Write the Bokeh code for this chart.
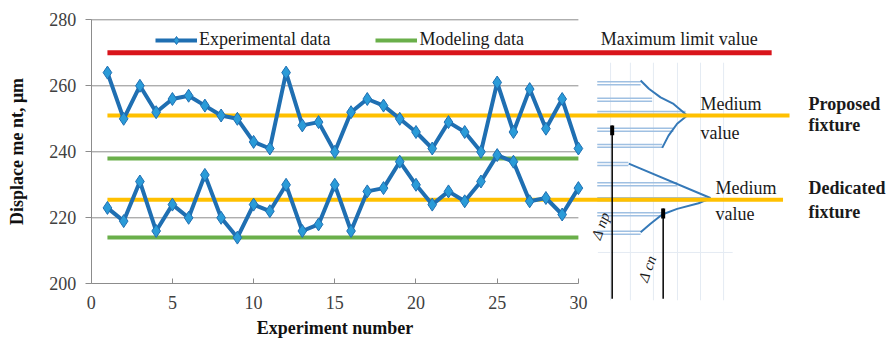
from bokeh.plotting import figure
from bokeh.models import Range1d, LinearAxis, FixedTicker, Legend, LegendItem, Label
from bokeh.embed import file_html
from bokeh.resources import INLINE

# ---------------- data ----------------
experiment = list(range(1, 31))
proposed = [264, 250, 260, 252, 256, 257, 254, 251, 250, 243,
            241, 264, 248, 249, 240, 252, 256, 254, 250, 246,
            241, 249, 246, 240, 261, 246, 259, 247, 256, 241]
dedicated = [223, 219, 231, 216, 224, 220, 233, 220, 214, 224,
             222, 230, 216, 218, 230, 216, 228, 229, 237, 230,
             224, 228, 225, 231, 239, 237, 225, 226, 221, 229]

modeling_levels = [238, 214]
medium_levels = [251, 225.5]
medium_ends = [43.0, 42.6]
max_limit = 270
max_limit_end = 41.9
x_ticks = [0, 5, 10, 15, 20, 25, 30]
y_ticks = [200, 220, 240, 260, 280]

# right-side sketch: histogram bars (level, end) and distribution curves
hist_start = 31.16
hist_up_y = [260.8, 255.8, 251.8, 246.7, 241.8]
hist_up_end = [33.83, 34.54, 36.6, 35.85, 35.16]
hist_lo_y = [236.3, 230.2, 225.6, 221.1, 215.5]
hist_lo_end = [33.08, 36.08, 37.9, 35.24, 33.83]
curve_up_x = [33.83, 34.34, 35.06, 35.86, 36.70, 36.08, 35.55, 35.16]
curve_up_y = [261.6, 259.1, 256.5, 254.5, 251.0, 248.5, 244.9, 241.2]
curve_lo_x = [33.10, 38.13, 37.40, 36.08, 35.16, 34.44, 33.83]
curve_lo_y = [236.4, 226.0, 224.4, 222.7, 221.0, 218.2, 215.6]
delta_x = [32.08, 35.22]
delta_top = [248.0, 222.8]
delta_bottom = 195.5
sketch_grid_x = [31.98, 33.2, 34.62, 36.1, 37.52, 38.94]
sketch_grid_y = [209.5]
sketch_grid_span = (195.0, 267.0)
sketch_grid_xspan = (31.2, 39.5)

FONT = "Liberation Serif"
BLUE = "#1f6fb2"
MARK = "#2a9bd8"
GREEN = "#6aaf4a"
ORANGE = "#ffc000"
RED = "#d9141b"
GRAY = "#8c8c8c"

p = figure(width=888, height=340, output_backend="svg", toolbar_location=None,
           x_range=Range1d(-5.585, 49.095), y_range=Range1d(182.82, 285.85),
           x_axis_location=None, y_axis_location=None,
           min_border_left=0, min_border_top=0, min_border_bottom=0, min_border_right=0)
p.outline_line_color = None
p.xgrid.visible = False
p.ygrid.visible = False

# y axis placed at x = 0
yax = LinearAxis(fixed_location=0, bounds=(200, 280), ticker=FixedTicker(ticks=y_ticks))
yax.axis_line_color = GRAY
yax.major_tick_line_color = GRAY
yax.major_tick_out = 6
yax.major_tick_in = 0
yax.minor_tick_line_color = None
yax.major_label_text_font = FONT
yax.major_label_text_font_size = "18px"
yax.major_label_text_color = "#404040"
yax.major_label_standoff = 9
yax.axis_label = "Displace me nt, μm"
yax.axis_label_text_font = FONT
yax.axis_label_text_font_style = "bold"
yax.axis_label_text_font_size = "18px"
yax.axis_label_text_color = "#111111"
yax.axis_label_standoff = 20
p.add_layout(yax, "left")

# x axis placed at y = 200
xax = LinearAxis(fixed_location=200, bounds=(0, 30), ticker=FixedTicker(ticks=x_ticks))
xax.axis_line_color = GRAY
xax.major_tick_line_color = GRAY
xax.major_tick_in = 5
xax.major_tick_out = 0
xax.minor_tick_line_color = None
xax.major_label_text_font = FONT
xax.major_label_text_font_size = "18px"
xax.major_label_text_color = "#404040"
xax.major_label_standoff = 12
xax.axis_label = "Experiment number"
xax.axis_label_text_font = FONT
xax.axis_label_text_font_style = "bold"
xax.axis_label_text_font_size = "18px"
xax.axis_label_text_color = "#111111"
xax.axis_label_standoff = 6
p.add_layout(xax, "below")

# gridlines (only across the data area)
p.segment(x0=[0] * 4, x1=[30] * 4, y0=y_ticks[1:], y1=y_ticks[1:], line_color=GRAY, line_width=1)

# faint grid of the sketch area
p.segment(x0=sketch_grid_x, x1=sketch_grid_x,
          y0=[sketch_grid_span[0]] * len(sketch_grid_x), y1=[sketch_grid_span[1]] * len(sketch_grid_x),
          line_color="#e4ebf3", line_width=1)
p.segment(x0=[sketch_grid_xspan[0]] * len(sketch_grid_y), x1=[sketch_grid_xspan[1]] * len(sketch_grid_y),
          y0=sketch_grid_y, y1=sketch_grid_y, line_color="#e4ebf3", line_width=1)

# histogram bars (double thin lines)
for ys, ends in ((hist_up_y, hist_up_end), (hist_lo_y, hist_lo_end)):
    for off in (-0.45, 0.45):
        p.segment(x0=[hist_start] * len(ys), x1=ends, y0=[v + off for v in ys], y1=[v + off for v in ys],
                  line_color="#9fc0e2", line_width=1.5)

# distribution curves
p.line(curve_up_x, curve_up_y, line_color="#3579b8", line_width=2)
p.line(curve_lo_x, curve_lo_y, line_color="#3579b8", line_width=2)

# max limit line
p.segment(x0=[1], x1=[max_limit_end], y0=[max_limit], y1=[max_limit], line_color=RED, line_width=5)

# modeling lines
green = p.segment(x0=[1, 1], x1=[30, 30], y0=modeling_levels, y1=modeling_levels, line_color=GREEN, line_width=4)

# medium value lines
p.segment(x0=[1, 1], x1=medium_ends, y0=medium_levels, y1=medium_levels, line_color=ORANGE, line_width=4)

# experimental series
l1 = p.line(experiment, proposed, line_color=BLUE, line_width=4)
s1 = p.scatter(experiment, proposed, marker="diamond", size=13, fill_color=MARK, line_color=BLUE, line_width=1)
l2 = p.line(experiment, dedicated, line_color=BLUE, line_width=4)
s2 = p.scatter(experiment, dedicated, marker="diamond", size=13, fill_color=MARK, line_color=BLUE, line_width=1)

# delta lines with small marks
p.segment(x0=delta_x, x1=delta_x, y0=[delta_bottom] * 2, y1=delta_top, line_color="black", line_width=1.5)
p.segment(x0=delta_x, x1=delta_x, y0=[t - 3 for t in delta_top], y1=delta_top, line_color="black", line_width=4)

# texts
def txt(x, y, s, bold=False, italic=False, size="18px", angle=0.0, align="left"):
    style = "bold" if bold else ("italic" if italic else "normal")
    p.add_layout(Label(x=x, y=y, text=s, text_font=FONT, text_font_size=size, text_font_style=style,
                       text_baseline="middle", text_align=align, angle=angle, text_color="#1a1a1a"))

txt(31.37, 274.3, "Maximum limit value")
txt(37.52, 254.6, "Medium")
txt(37.52, 245.8, "value")
txt(38.44, 228.9, "Medium")
txt(38.44, 221.3, "value")
txt(44.17, 254.6, "Proposed", bold=True)
txt(44.17, 248.0, "fixture", bold=True)
txt(44.17, 228.9, "Dedicated", bold=True)
txt(44.17, 221.9, "fixture", bold=True)
txt(31.37, 217.6, "Δ пр", italic=True, size="15px", angle=1.22, align="center")
txt(34.25, 204.6, "Δ сп", italic=True, size="15px", angle=1.22, align="center")

legend = Legend(items=[LegendItem(label="Experimental data", renderers=[l1, s1]),
                       LegendItem(label="Modeling data", renderers=[green])],
                orientation="horizontal", location=(155, 290), padding=0, margin=0,
                spacing=45, glyph_width=42, glyph_height=20, label_height=20, label_standoff=2,
                label_text_font=FONT, label_text_font_size="18px", label_text_color="#1a1a1a",
                border_line_color=None, background_fill_alpha=0)
p.add_layout(legend, "center")

open("out.html", "w").write(file_html(p, INLINE))
